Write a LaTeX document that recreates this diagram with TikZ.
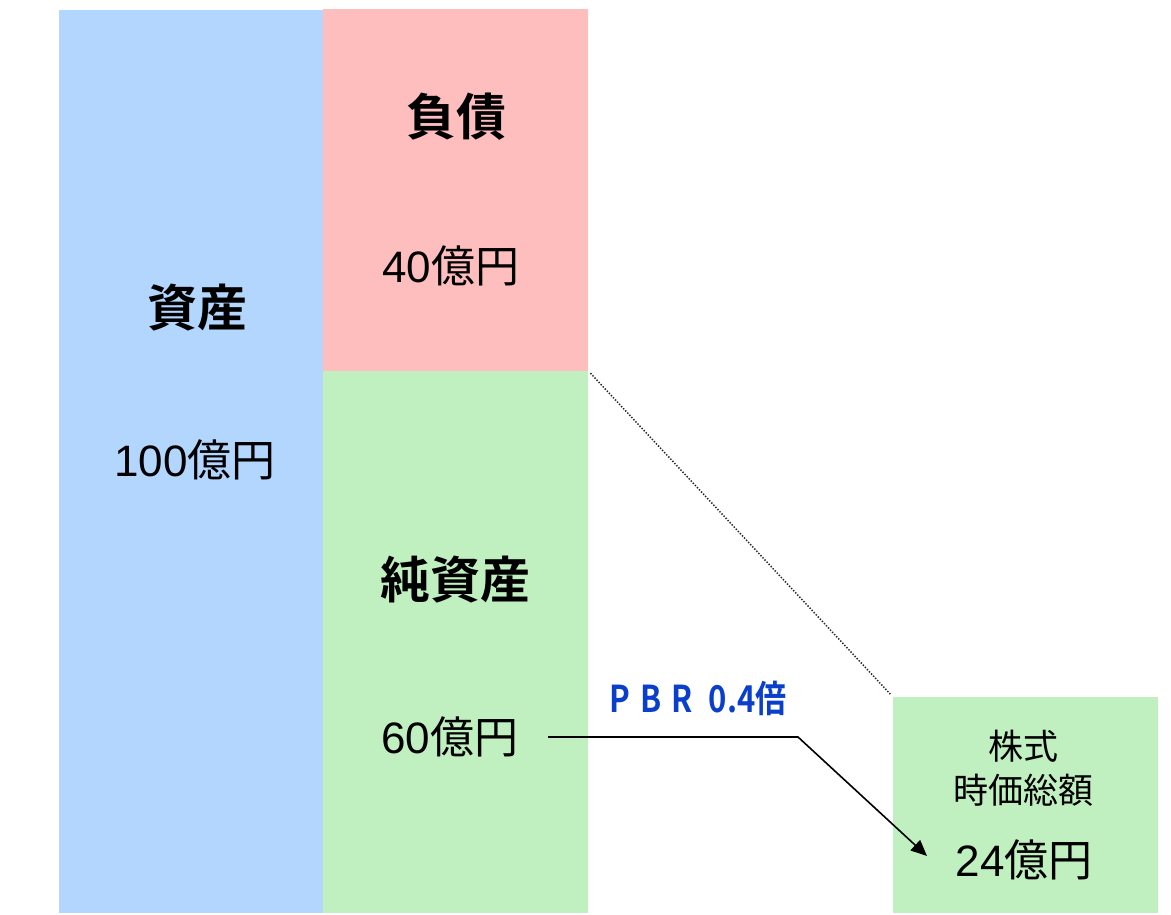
\documentclass[tikz,border=0pt]{standalone}
\usepackage{fontspec}
\setmainfont{Noto Sans CJK JP}
\newfontfamily\jpbold{Noto Sans CJK JP Bold}
\newfontfamily\latn{Liberation Sans}
\usetikzlibrary{arrows.meta}
\definecolor{assetblue}{HTML}{B3D6FE}
\definecolor{debtpink}{HTML}{FEBEBE}
\definecolor{netgreen}{HTML}{C0EFC0}
\definecolor{pbrblue}{HTML}{0A3FCC}
\tikzset{
  block/.style={anchor=north west, inner sep=0pt, draw=none},
  title/.style={font=\jpbold\fontsize{50}{55}\selectfont, inner sep=0pt},
  amount/.style={font=\fontsize{44}{50}\selectfont, inner sep=0pt},
  small/.style={font=\fontsize{35}{44}\selectfont, inner sep=0pt, align=center},
}
\begin{document}
\begin{tikzpicture}[x=1pt,y=-1pt]
\useasboundingbox (0,0) rectangle (1171,915);
\node[block, fill=assetblue, minimum width=264pt, minimum height=903pt] (assets) at (59,10) {};
\node[block, fill=debtpink, minimum width=265pt, minimum height=362pt] (debt) at (323,9) {};
\node[block, fill=netgreen, minimum width=265pt, minimum height=542pt] (net) at (323,371) {};
\node[block, fill=netgreen, minimum width=265pt, minimum height=216pt] (mcap) at (893,697) {};

\node[title] (tA) at (197,308) {資産};
\node[amount] (vA) at (195,460) {{\latn 100}億円};
\node[title] (tD) at (456,117) {負債};
\node[amount] (vD) at (451,266) {{\latn 40}億円};
\node[title] (tN) at (455,580) {純資産};
\node[amount] (vN) at (450,737) {{\latn 60}億円};
\node[small] (tM) at (1023,768) {株式\\時価総額};
\node[amount] (vM) at (1024,860) {{\latn 24}億円};

\node[font=\jpbold\fontsize{37}{40}\selectfont, text=pbrblue, inner sep=0pt] (pbr) at (698,698) {\scalebox{0.84}[1]{P\,\,B\,\,R\,\,\,0.4倍}};

\coordinate (lstart) at (548,737);
\coordinate (lbend) at (798,737);
\coordinate (lend) at (927,856);
\draw[line width=1.6pt, -{Triangle[length=16pt,width=14pt]}] (lstart) -- (lbend) -- (lend);

\draw[line width=1.5pt, draw=black!85, dash pattern=on 1.4pt off 1.6pt, shorten <=3pt, shorten >=4pt] (net.north east) -- (mcap.north west);
\end{tikzpicture}
\end{document}
